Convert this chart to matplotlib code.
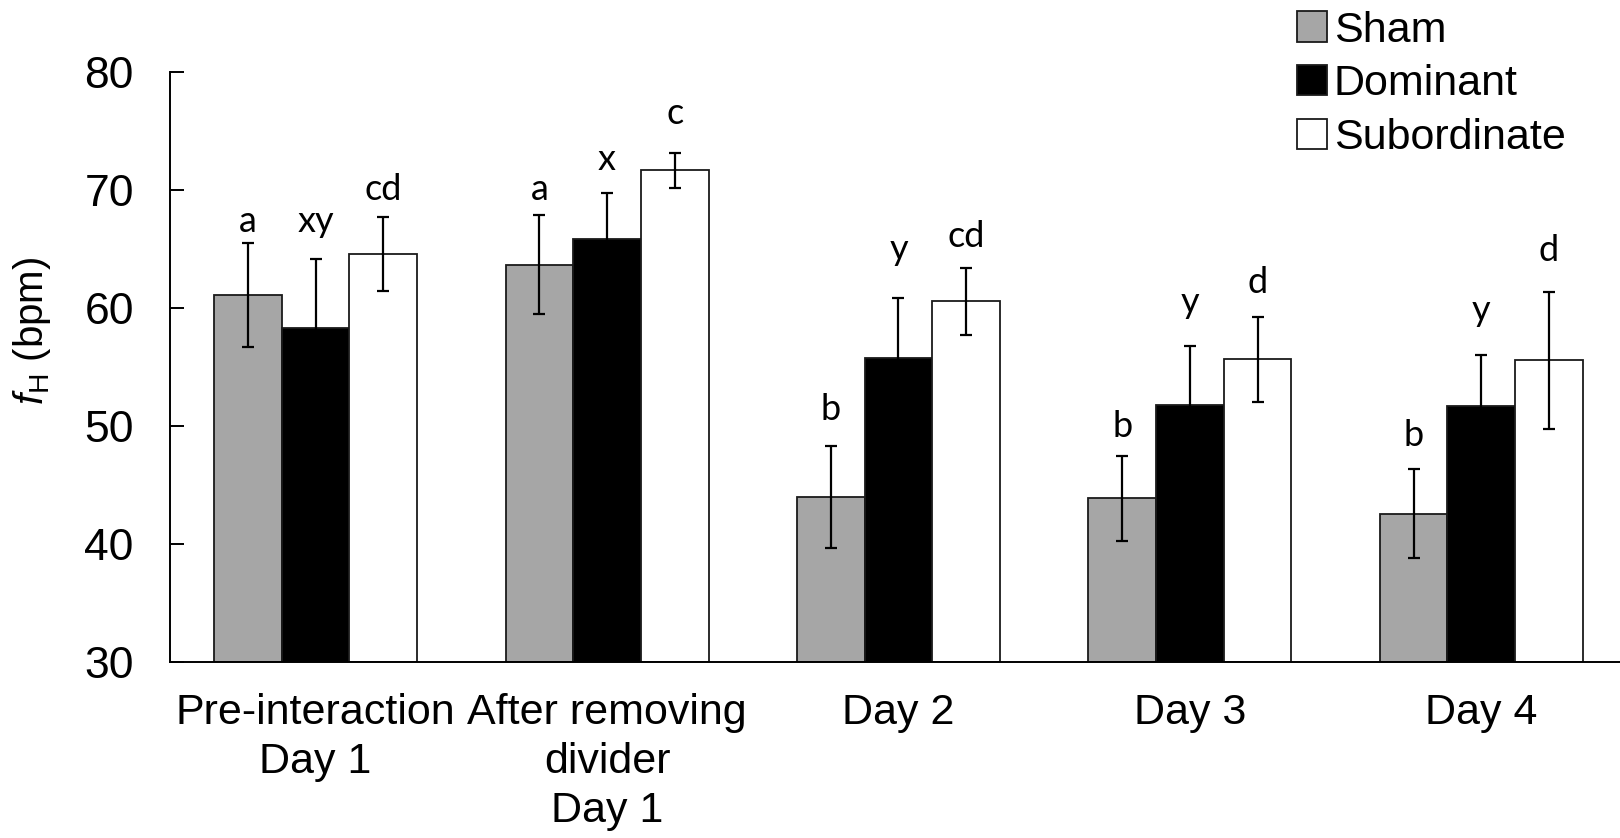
import matplotlib
matplotlib.use("Agg")
import matplotlib.pyplot as plt
from matplotlib.patches import Patch
import numpy as np

# ---- data ----
categories = ["Pre-interaction\nDay 1", "After removing\ndivider\nDay 1", "Day 2", "Day 3", "Day 4"]
series_names = ["Sham", "Dominant", "Subordinate"]
sham = [61.1, 63.7, 44.0, 43.9, 42.6]
sham_err = [4.4, 4.2, 4.35, 3.6, 3.8]
dominant = [58.3, 65.9, 55.8, 51.8, 51.7]
dominant_err = [5.9, 3.9, 5.1, 5.0, 4.3]
subordinate = [64.6, 71.7, 60.6, 55.7, 55.6]
subordinate_err = [3.1, 1.5, 2.85, 3.6, 5.8]
sham_letters = ["a", "a", "b", "b", "b"]
dominant_letters = ["xy", "x", "y", "y", "y"]
subordinate_letters = ["cd", "c", "cd", "d", "d"]
sham_letter_y = [66.5, 69.2, 50.5, 49.1, 48.3]
dominant_letter_y = [66.5, 71.7, 64.1, 59.6, 58.9]
subordinate_letter_y = [69.2, 75.6, 65.2, 61.3, 64.0]
yticks = [30, 40, 50, 60, 70, 80]

plt.rcParams['font.family'] = ['Liberation Sans', 'DejaVu Sans']
plt.rcParams['mathtext.fontset'] = 'custom'
plt.rcParams['mathtext.rm'] = 'Liberation Sans'
plt.rcParams['mathtext.it'] = 'Liberation Sans:italic'

fig = plt.figure(figsize=(16.2, 8.38), dpi=100)
ax = fig.add_axes([0.1049, 0.2097, 0.8994, 0.704])

colors = ["#A6A6A6", "#000000", "#FFFFFF"]
means = [sham, dominant, subordinate]
errs = [sham_err, dominant_err, subordinate_err]
letters = [sham_letters, dominant_letters, subordinate_letters]
letter_ys = [sham_letter_y, dominant_letter_y, subordinate_letter_y]

x = np.arange(len(categories))
w = 0.2323
for i in range(3):
    xi = x + (i - 1) * w
    ax.bar(xi, np.array(means[i]) - 30, bottom=30, width=w, color=colors[i],
           edgecolor="#1a1a1a", linewidth=1.3, zorder=2)
    ax.errorbar(xi, means[i], yerr=errs[i], fmt="none", ecolor="black",
                elinewidth=1.6, capsize=4.5, capthick=1.6, zorder=3)
    for xx, lab, ly in zip(xi, letters[i], letter_ys[i]):
        ax.text(xx, ly, lab, ha="center", va="baseline", fontsize=26,
                family=["Lato", "DejaVu Sans"], zorder=4)

ax.set_xlim(-0.5, 4.5)
ax.set_ylim(30, 80)
ax.set_yticks(yticks)
ax.set_xticks(x)
ax.set_xticklabels(categories, fontsize=31, linespacing=1.3)
ax.tick_params(axis="x", length=0, pad=22)
ax.tick_params(axis="y", direction="in", length=10, width=1.4, labelsize=32, pad=26)
ax.spines["top"].set_visible(False)
ax.spines["right"].set_visible(False)
ax.spines["left"].set_linewidth(1.4)
ax.spines["bottom"].set_linewidth(1.4)
ax.set_ylabel(r"$\mathit{f}_{\mathrm{H}}$ (bpm)", fontsize=29)
ax.yaxis.set_label_coords(-0.08, 0.562)

handles = [Patch(facecolor=c, edgecolor="#1a1a1a", linewidth=1.3) for c in colors]
fig.legend(handles, series_names, loc="upper left", bbox_to_anchor=(0.79, 1.008),
           frameon=False, fontsize=31, handlelength=0.7, handleheight=0.7,
           handletextpad=0.15, labelspacing=0.32, borderaxespad=0)

fig.savefig("out.png", dpi=100)
